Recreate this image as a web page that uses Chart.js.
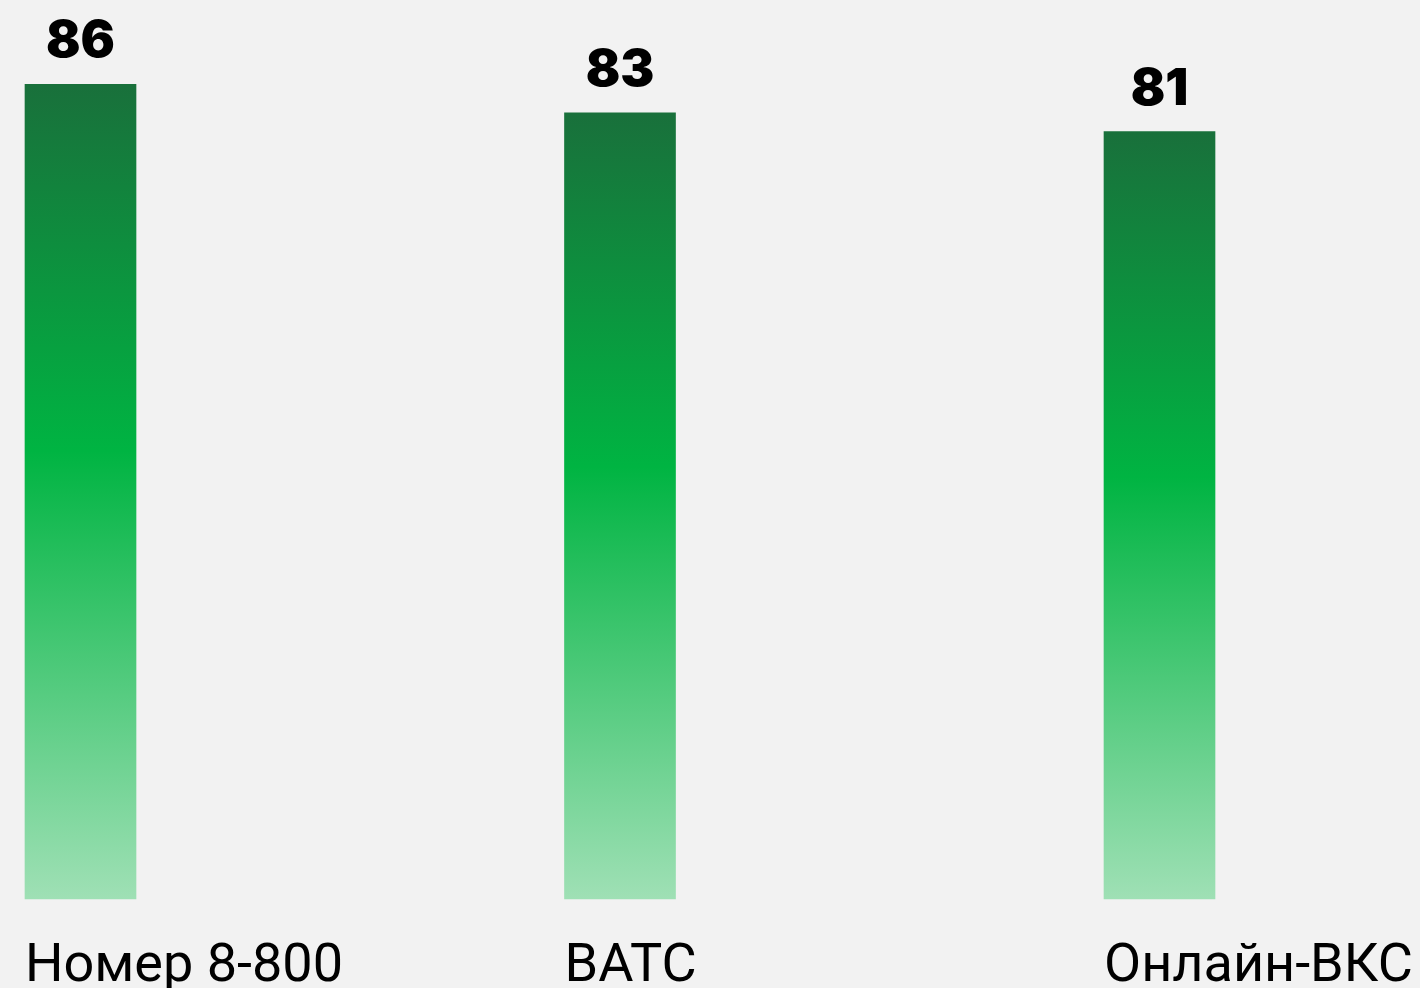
<!DOCTYPE html>
<html>
<head>
<meta charset="utf-8">
<script src="https://cdn.jsdelivr.net/npm/chart.js@4/dist/chart.umd.min.js"></script>
<style>
  html, body { margin: 0; padding: 0; background: #f2f2f2; }
  #wrap { width: 1420px; height: 988px; position: relative; }
</style>
</head>
<body>
<div id="wrap"><canvas id="c" width="1420" height="988"></canvas></div>
<script>
const categories = ['Номер 8-800', 'ВАТС', 'Онлайн-ВКС'];
const values = [86, 83, 81];
const gradientStops = [
  [0, '#19703b'],
  [0.45, '#00b442'],
  [1, '#9fe0b5']
];

const bg = '#f2f2f2';

function barGradient(ctx) {
  const chart = ctx.chart;
  const yScale = chart.scales.y;
  if (!yScale || ctx.dataIndex === undefined) return gradientStops[1][1];
  const top = yScale.getPixelForValue(values[ctx.dataIndex]);
  const base = yScale.getPixelForValue(0);
  if (!isFinite(top) || !isFinite(base)) return gradientStops[1][1];
  const g = chart.ctx.createLinearGradient(0, top, 0, base);
  gradientStops.forEach(([o, c]) => g.addColorStop(o, c));
  return g;
}

const bgPlugin = {
  id: 'bg',
  beforeDraw(chart) {
    const c = chart.ctx;
    c.save();
    c.fillStyle = bg;
    c.fillRect(0, 0, chart.width, chart.height);
    c.restore();
  }
};

const valueLabels = {
  id: 'valueLabels',
  afterDatasetsDraw(chart) {
    const c = chart.ctx;
    const meta = chart.getDatasetMeta(0);
    c.save();
    c.font = '900 51px Inter, "Noto Sans", sans-serif';
    c.fillStyle = '#000000';
    c.textAlign = 'center';
    c.textBaseline = 'alphabetic';
    meta.data.forEach((bar, i) => {
      c.fillText(String(values[i]), bar.x, bar.y - 27);
    });
    c.restore();
  }
};

new Chart(document.getElementById('c'), {
  type: 'bar',
  data: {
    labels: categories,
    datasets: [{
      data: values,
      backgroundColor: barGradient,
      borderWidth: 0,
      barThickness: 111,
      clip: false
    }]
  },
  options: {
    responsive: false,
    animation: false,
    events: [],
    layout: { padding: { left: 80.5, right: 260.5, top: 0, bottom: 0 } },
    plugins: { legend: { display: false }, tooltip: { enabled: false } },
    scales: {
      x: {
        offset: false,
        grid: { display: false, drawTicks: false },
        border: { display: false },
        ticks: {
          align: 'start',
          labelOffset: -55.5,
          padding: 41,
          color: '#000000',
          maxRotation: 0,
          autoSkip: false,
          font: { family: 'Roboto, "Noto Sans", sans-serif', size: 54, weight: '400', lineHeight: 1 }
        },
        afterFit(scale) {
          scale.paddingLeft = 0;
          scale.paddingRight = 0;
          scale.height = 89;
        }
      },
      y: {
        display: false,
        min: 0,
        max: 94.9
      }
    }
  },
  plugins: [bgPlugin, valueLabels]
});
</script>
</body>
</html>
